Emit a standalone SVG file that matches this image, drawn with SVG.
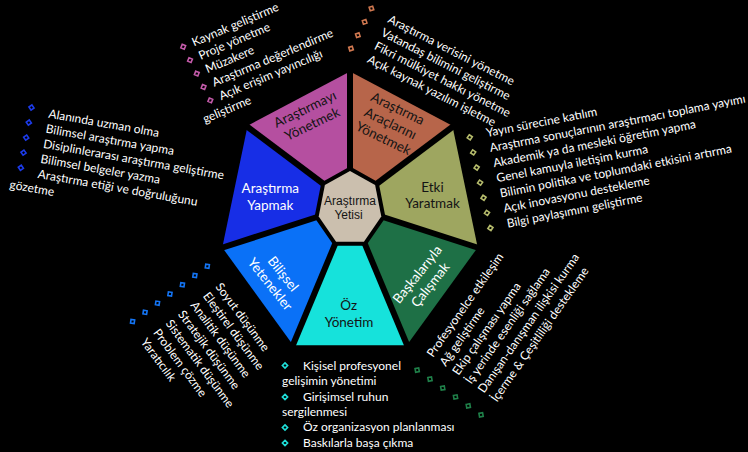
<svg xmlns="http://www.w3.org/2000/svg" width="748" height="452" viewBox="0 0 748 452">
  <defs>
    <path id="dot" d="M0,-2.6 L2.6,0 L0,2.6 L-2.6,0 Z"/>
  </defs>
  <style>
    .lst { font-family: Lato, "Open Sans", sans-serif; font-size: 12px; fill: #ffffff; }
    .lbl { font-family: Lato, "Open Sans", sans-serif; font-size: 13.5px; text-anchor: middle; }
    .dark { fill: #141414; }
    .light { fill: #ffffff; }
    .mark { fill: none; stroke-width: 1.6; }
    .spoke { stroke: #000; stroke-width: 6; stroke-linecap: butt; }
  </style>
  <rect x="0" y="0" width="748" height="452" fill="#000"/>

  <!-- outer wedges -->
  <g id="node-arac">
    <polygon points="350,171 350,71.5 452.4,125.7 375.1,185" fill="#B7654A"/>
  </g>
  <g id="node-etki">
    <polygon points="375.1,185 452.4,125.7 477.7,247.5 381.3,216.5" fill="#9EA660"/>
  </g>
  <g id="node-baskalari">
    <polygon points="381.3,216.5 477.7,247.5 406.8,345.2 363.9,241.7" fill="#1E7046"/>
  </g>
  <g id="node-oz">
    <polygon points="363.9,241.7 406.8,345.2 293.2,345.2 336.1,241.7" fill="#16E2DB"/>
  </g>
  <g id="node-bilissel">
    <polygon points="336.1,241.7 293.2,345.2 222.3,247.5 318.7,216.5" fill="#0A71F7"/>
  </g>
  <g id="node-yapmak">
    <polygon points="318.7,216.5 222.3,247.5 247.6,125.7 324.9,185" fill="#172EE6"/>
  </g>
  <g id="node-yonetmek">
    <polygon points="324.9,185 247.6,125.7 350,71.5 350,171" fill="#B54FA0"/>
  </g>

  <!-- separating gaps between wedges -->
  <g id="connectors">
    <line class="spoke" x1="350" y1="171" x2="350" y2="64"/>
    <line class="spoke" x1="375.1" y1="185" x2="459" y2="122"/>
    <line class="spoke" x1="381.3" y1="216.5" x2="485" y2="250"/>
    <line class="spoke" x1="363.9" y1="241.7" x2="410" y2="352"/>
    <line class="spoke" x1="336.1" y1="241.7" x2="290" y2="352"/>
    <line class="spoke" x1="318.7" y1="216.5" x2="215" y2="250"/>
    <line class="spoke" x1="324.9" y1="185" x2="241" y2="122"/>
  </g>

  <!-- centre -->
  <g id="node-yeti">
    <polygon points="350,171 375.1,185 381.3,216.5 363.9,241.7 336.1,241.7 318.7,216.5 324.9,185" fill="#CBBFAE" stroke="#000" stroke-width="8" stroke-linejoin="miter" paint-order="stroke"/>
    <text x="350" y="205" font-family="'Liberation Sans', Arial, sans-serif" font-size="12" fill="#141414" text-anchor="middle">Araştırma</text>
    <text x="348.5" y="218.5" font-family="'Liberation Sans', Arial, sans-serif" font-size="12" fill="#141414" text-anchor="middle">Yetisi</text>
  </g>

  <!-- wedge labels -->
  <g transform="translate(308.5,116.5) rotate(-25.7)">
    <text class="lbl dark" x="0" y="-3.5">Araştırmayı</text>
    <text class="lbl dark" x="0" y="13">Yönetmek</text>
  </g>
  <g transform="translate(390.5,123.5) rotate(25.7)">
    <text class="lbl dark" x="0" y="-12">Araştırma</text>
    <text class="lbl dark" x="0" y="4.5">Araçlarını</text>
    <text class="lbl dark" x="0" y="21">Yönetmek</text>
  </g>
  <text class="lbl dark" x="432.5" y="191.5">Etki</text>
  <text class="lbl dark" x="432.5" y="208">Yaratmak</text>
  <g transform="translate(423.7,279.5) rotate(-51.4)">
    <text class="lbl light" x="0" y="-3.5">Başkalarıyla</text>
    <text class="lbl light" x="0" y="13">Çalışmak</text>
  </g>
  <text class="lbl dark" x="348.7" y="309.5">Öz</text>
  <text class="lbl dark" x="349" y="326.5">Yönetim</text>
  <g transform="translate(276.7,279) rotate(51.4)">
    <text class="lbl light" x="0" y="-3.5">Bilişsel</text>
    <text class="lbl light" x="0" y="13">Yetenekler</text>
  </g>
  <text class="lbl light" x="270.3" y="192.5">Araştırma</text>
  <text class="lbl light" x="270.3" y="210">Yapmak</text>

  <!-- list: managing research -->
  <g transform="translate(194,46.5) rotate(-23)">
    <g class="mark" stroke="#C45BAA">
      <use href="#dot" x="-10" y="-4"/>
      <use href="#dot" x="-9" y="11"/>
      <use href="#dot" x="-8" y="26"/>
      <use href="#dot" x="-7" y="41"/>
      <use href="#dot" x="-6" y="56"/>
    </g>
    <text class="lst" x="0" y="0">Kaynak geliştirme</text>
    <text class="lst" x="1" y="15">Proje yönetme</text>
    <text class="lst" x="2" y="30">Müzakere</text>
    <text class="lst" x="3" y="45">Araştırma değerlendirme</text>
    <text class="lst" x="4" y="60">Açık erişim yayıncılığı</text>
    <text class="lst" x="-20" y="75">geliştirme</text>
  </g>

  <!-- list: research tools -->
  <g transform="translate(387,22) rotate(27)">
    <g class="mark" stroke="#D07850">
      <use href="#dot" x="-20" y="-5"/>
      <use href="#dot" x="-20" y="10"/>
      <use href="#dot" x="-20" y="25"/>
      <use href="#dot" x="-20" y="40"/>
    </g>
    <text class="lst" x="0" y="0">Araştırma verisini yönetme</text>
    <text class="lst" x="0" y="15">Vatandaş bilimini geliştirme</text>
    <text class="lst" x="0" y="30">Fikri mülkiyet hakkı yönetme</text>
    <text class="lst" x="0" y="45">Açık kaynak yazılım işletme</text>
  </g>

  <!-- list: impact -->
  <g transform="translate(487,137) rotate(-11)">
    <g class="mark" stroke="#B6BC6C">
      <use href="#dot" x="-17" y="-3"/>
      <use href="#dot" x="-16.5" y="12.5"/>
      <use href="#dot" x="-16" y="28"/>
      <use href="#dot" x="-15.5" y="43.5"/>
      <use href="#dot" x="-15" y="59"/>
      <use href="#dot" x="-14.5" y="74.5"/>
      <use href="#dot" x="-14" y="90"/>
    </g>
    <text class="lst" x="0" y="0">Yayın sürecine katılım</text>
    <text class="lst" x="0.5" y="15.5">Araştırma sonuçlarının araştırmacı toplama yayımı</text>
    <text class="lst" x="1" y="31">Akademik ya da mesleki öğretim yapma</text>
    <text class="lst" x="1.5" y="46.5">Genel kamuyla iletişim kurma</text>
    <text class="lst" x="2" y="62">Bilimin politika ve toplumdaki etkisini artırma</text>
    <text class="lst" x="2.5" y="77.5">Açık inovasyonu destekleme</text>
    <text class="lst" x="3" y="93">Bilgi paylaşımını geliştirme</text>
  </g>

  <!-- list: doing research -->
  <g transform="translate(48,117.5) rotate(10)">
    <g class="mark" stroke="#1C3BEA">
      <use href="#dot" x="-18" y="-7"/>
      <use href="#dot" x="-18" y="8.3"/>
      <use href="#dot" x="-18" y="23.6"/>
      <use href="#dot" x="-18" y="38.9"/>
      <use href="#dot" x="-18" y="54.2"/>
    </g>
    <text class="lst" x="0" y="0">Alanında uzman olma</text>
    <text class="lst" x="0" y="15.3">Bilimsel araştırma yapma</text>
    <text class="lst" x="0" y="30.6">Disiplinlerarası araştırma geliştirme</text>
    <text class="lst" x="0" y="45.9">Bilimsel belgeler yazma</text>
    <text class="lst" x="0" y="61.2">Araştırma etiği ve doğruluğunu</text>
    <text class="lst" x="-26" y="76.5">gözetme</text>
  </g>

  <!-- list: cognitive skills -->
  <g transform="translate(215,286.7) rotate(53.5)">
    <g class="mark" stroke="#1475F5">
      <use href="#dot" x="-21" y="-6"/>
      <use href="#dot" x="-21" y="9.5"/>
      <use href="#dot" x="-21" y="25"/>
      <use href="#dot" x="-21" y="40.5"/>
      <use href="#dot" x="-21" y="56"/>
      <use href="#dot" x="-21" y="71.5"/>
      <use href="#dot" x="-21" y="87"/>
    </g>
    <text class="lst" x="0" y="0">Soyut düşünme</text>
    <text class="lst" x="0" y="15.5">Eleştirel düşünme</text>
    <text class="lst" x="0" y="31">Analitik düşünme</text>
    <text class="lst" x="0" y="46.5">Stratejik düşünme</text>
    <text class="lst" x="0" y="62">Sistematik düşünme</text>
    <text class="lst" x="0" y="77.5">Problem çözme</text>
    <text class="lst" x="0" y="93">Yaratıcılık</text>
  </g>

  <!-- list: working with others -->
  <g transform="translate(433,358) rotate(-55)">
    <g class="mark" stroke="#1F8049">
      <use href="#dot" x="-19" y="-6"/>
      <use href="#dot" x="-19" y="9.6"/>
      <use href="#dot" x="-19" y="25.2"/>
      <use href="#dot" x="-19" y="40.8"/>
      <use href="#dot" x="-19" y="56.4"/>
      <use href="#dot" x="-19" y="72"/>
    </g>
    <text class="lst" x="0" y="0">Profesyonelce etkileşim</text>
    <text class="lst" x="0" y="15.6">Ağ geliştirme</text>
    <text class="lst" x="0" y="31.2">Ekip çalışması yapma</text>
    <text class="lst" x="0" y="46.8">İş yerinde esenliği sağlama</text>
    <text class="lst" x="0" y="62.4">Danışan-danışman ilişkisi kurma</text>
    <text class="lst" x="0" y="78">İçerme &amp; Çeşitliliği destekleme</text>
  </g>

  <!-- list: self management -->
  <g>
    <g class="mark" stroke="#1EE0DA">
      <use href="#dot" x="285" y="365.5"/>
      <use href="#dot" x="285" y="397"/>
      <use href="#dot" x="285" y="427.5"/>
      <use href="#dot" x="285" y="443"/>
    </g>
    <text class="lst" x="303" y="370">Kişisel profesyonel</text>
    <text class="lst" x="282" y="385.3">gelişimin yönetimi</text>
    <text class="lst" x="303" y="400.6">Girişimsel ruhun</text>
    <text class="lst" x="282" y="415.9">sergilenmesi</text>
    <text class="lst" x="303" y="431.2">Öz organizasyon planlanması</text>
    <text class="lst" x="303" y="446.5">Baskılarla başa çıkma</text>
  </g>
</svg>
